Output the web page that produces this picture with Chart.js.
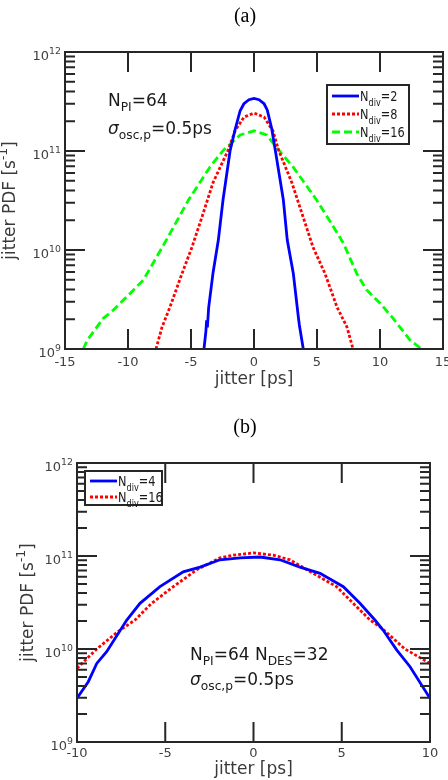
<!DOCTYPE html>
<html lang="en">
<head>
<meta charset="UTF-8">
<title>Jitter PDF</title>
<script src="https://cdn.jsdelivr.net/npm/chart.js"></script>
<style>
  html, body { margin: 0; padding: 0; background: #fff; }
  body { width: 448px; height: 780px; position: relative; overflow: hidden; }
  canvas { position: absolute; left: 0; }
  #chartA { top: 0; }
  #chartB { top: 395px; }
</style>
</head>
<body>
<canvas id="chartA" width="448" height="395"></canvas>
<canvas id="chartB" width="448" height="385"></canvas>
<script>
// panel (a): N_PI=64, sigma=0.5ps
const jitterA2 = [-3.97, -3.82, -3.76, -3.7, -3.6, -3.25, -2.83, -2.46, -1.9, -1.5, -1.1, -0.8, -0.4, 0, 0.4, 0.8, 1.05, 1.4, 1.7, 2.33, 2.64, 3.12, 3.52, 3.6, 3.91];
const pdfA2 = [1e9, 1.5e9, 1.95e9, 1.65e9, 2.6e9, 5.9e9, 1.26e10, 3.2e10, 1e11, 1.65e11, 2.55e11, 3.0e11, 3.3e11, 3.4e11, 3.3e11, 3.0e11, 2.6e11, 1.7e11, 1e11, 3.2e10, 1.26e10, 5.8e9, 2.1e9, 1.75e9, 1e9];

const jitterA8 = [-7.78, -7.3, -6.67, -5.71, -4.92, -4.13, -3.25, -2.05, -1.5, -0.8, 0, 0.8, 1.5, 1.95, 3.0, 3.9, 4.68, 5.63, 6.59, 7.38, 7.86];
const pdfA8 = [1e9, 1.66e9, 2.65e9, 5.8e9, 1.07e10, 2.15e10, 4.8e10, 1.02e11, 1.6e11, 2.2e11, 2.42e11, 2.2e11, 1.6e11, 1.02e11, 4.8e10, 2.15e10, 1.07e10, 5.8e9, 2.65e9, 1.66e9, 1e9];

const jitterA16 = [-13.55, -13.23, -11.96, -11.3, -10.1, -8.78, -7.1, -5.2, -3.49, -2.43, -1.1, 0, 1.0, 2.2, 3.1, 4.97, 6.3, 7.1, 8.15, 8.94, 10.0, 10.93, 12.38, 13.3];
const pdfA16 = [1e9, 1.23e9, 2.04e9, 2.38e9, 3.37e9, 4.98e9, 1.17e10, 3.2e10, 6.9e10, 1.02e11, 1.45e11, 1.6e11, 1.45e11, 9.4e10, 6.9e10, 3.2e10, 1.72e10, 1.17e10, 5.8e9, 3.95e9, 2.9e9, 2.12e9, 1.23e9, 1e9];

// panel (b): N_PI=64, N_DES=32, sigma=0.5ps
const jitterB4 = [-10, -9.36, -8.88, -8.32, -7.18, -6.43, -5.3, -3.98, -3.03, -1.9, -0.76, 0.37, 1.5, 2.63, 3.77, 5.09, 6.03, 6.88, 7.35, 8.11, 8.87, 10];
const pdfB4 = [2.95e9, 4.45e9, 7.0e9, 9.35e9, 2.05e10, 3.1e10, 4.68e10, 6.76e10, 7.6e10, 9.1e10, 9.55e10, 9.75e10, 9.1e10, 7.6e10, 6.5e10, 4.68e10, 3.1e10, 2.05e10, 1.59e10, 9.8e9, 6.45e9, 2.95e9];

const jitterB16 = [-10, -8.88, -7.66, -6.71, -5.77, -4.54, -3.22, -1.9, -1.14, 0, 1.12, 2.07, 3.39, 4.71, 5.65, 6.6, 7.26, 8.58, 10];
const pdfB16 = [6.2e9, 1.0e10, 1.55e10, 2.05e10, 3.1e10, 4.68e10, 7.1e10, 9.55e10, 1.02e11, 1.08e11, 1.02e11, 9.1e10, 6.5e10, 4.68e10, 3.1e10, 2.05e10, 1.68e10, 1.0e10, 7.0e9];

const xTicksA = [-15, -10, -5, 0, 5, 10, 15];
const xTicksB = [-10, -5, 0, 5, 10];
const yExponents = [9, 10, 11, 12];

const FONT = '"DejaVu Sans", sans-serif';
const BLUE = '#0000ff', RED = '#ff0000', GREEN = '#00ff00';

function toPoints(xs, ys) {
    return xs.map((x, i) => ({ x: x, y: ys[i] }));
}

function fontFor(part, size) {
    const small = part[1] === 'sub' || part[1] === 'sup';
    const style = part[1] === 'it' ? 'italic ' : '';
    return style + (small ? size * 0.72 : size) + 'px ' + FONT;
}

// text with sub/superscripts, parts = [[text, 'n'|'sub'|'sup'|'it'], ...]
function drawRich(ctx, x, y, parts, size, align, sx) {
    sx = sx || 1;
    let w = 0;
    parts.forEach(p => { ctx.font = fontFor(p, size); w += ctx.measureText(p[0]).width; });
    ctx.save();
    ctx.translate(x, y);
    ctx.scale(sx, 1);
    let cx = align === 'right' ? -w : (align === 'center' ? -w / 2 : 0);
    ctx.textAlign = 'left';
    ctx.textBaseline = 'alphabetic';
    parts.forEach(p => {
        ctx.font = fontFor(p, size);
        const dy = p[1] === 'sub' ? size * 0.32 : (p[1] === 'sup' ? -size * 0.5 : 0);
        ctx.fillText(p[0], cx, dy);
        cx += ctx.measureText(p[0]).width;
    });
    ctx.restore();
}

const framePlugin = {
    id: 'frame',
    afterDatasetsDraw(chart, args, o) {
        const ctx = chart.ctx, a = chart.chartArea;
        const xs = chart.scales.x, ys = chart.scales.y;
        ctx.save();
        ctx.strokeStyle = '#262626';
        ctx.lineWidth = 2;
        ctx.setLineDash([]);

        // inward ticks on all four sides
        ctx.beginPath();
        o.xTicks.forEach(v => {
            const px = xs.getPixelForValue(v);
            ctx.moveTo(px, a.bottom); ctx.lineTo(px, a.bottom - 20);
            ctx.moveTo(px, a.top); ctx.lineTo(px, a.top + 20);
        });
        yExponents.forEach(e => {
            for (let m = 1; m <= 9; m++) {
                if (e === 12 && m > 1) break;
                const py = ys.getPixelForValue(m * Math.pow(10, e));
                const len = m === 1 ? 20 : 10;
                ctx.moveTo(a.left, py); ctx.lineTo(a.left + len, py);
                ctx.moveTo(a.right, py); ctx.lineTo(a.right - len, py);
            }
        });
        ctx.stroke();
        ctx.strokeRect(a.left, a.top, a.right - a.left, a.bottom - a.top);

        // tick labels
        ctx.fillStyle = '#404040';
        o.xTicks.forEach(v => {
            drawRich(ctx, xs.getPixelForValue(v), a.bottom + o.xLabelGap, [[String(v), 'n']], 13, 'center');
        });
        yExponents.forEach(e => {
            const py = ys.getPixelForValue(Math.pow(10, e));
            drawRich(ctx, a.left - 4, py + 8, [['10', 'n'], [String(e), 'sup']], 13, 'right');
        });

        // axis titles
        ctx.fillStyle = '#3a3a3a';
        drawRich(ctx, (a.left + a.right) / 2, o.xTitleY, [['jitter [ps]', 'n']], 17, 'center');
        ctx.save();
        ctx.translate(o.yTitleX, (a.top + a.bottom) / 2);
        ctx.rotate(-Math.PI / 2);
        drawRich(ctx, 0, 0, [['jitter PDF [s', 'n'], ['-1', 'sup'], [']', 'n']], 17, 'center');
        ctx.restore();

        // panel title
        ctx.fillStyle = '#000';
        ctx.font = '20px "Liberation Serif", serif';
        ctx.textAlign = 'center';
        ctx.fillText(o.title, 245, o.titleY);

        // annotations
        ctx.fillStyle = '#1a1a1a';
        o.notes.forEach(n => drawRich(ctx, n.x, n.y, n.parts, 17, 'left'));

        // legend box
        const L = o.legend;
        ctx.fillStyle = '#fff';
        ctx.fillRect(L.x, L.y, L.w, L.h);
        ctx.strokeStyle = '#262626';
        ctx.lineWidth = 2;
        ctx.strokeRect(L.x, L.y, L.w, L.h);
        chart.data.datasets.forEach((ds, i) => {
            const ry = L.rowY[i];
            ctx.strokeStyle = ds.borderColor;
            ctx.lineWidth = ds.borderWidth;
            ctx.setLineDash(ds.borderDash || []);
            ctx.beginPath();
            ctx.moveTo(L.x + 5, ry); ctx.lineTo(L.x + 32, ry);
            ctx.stroke();
            ctx.setLineDash([]);
            ctx.fillStyle = '#1a1a1a';
            drawRich(ctx, L.x + 33, ry + 5, [['N', 'n'], ['div', 'sub'], ['=' + ds.div, 'n']], 14.5, 'left', 0.78);
        });
        ctx.restore();
    }
};

function makeChart(id, datasets, xMin, xMax, pad, frameOpts) {
    return new Chart(document.getElementById(id).getContext('2d'), {
        type: 'line',
        data: { datasets: datasets },
        options: {
            responsive: false,
            animation: false,
            events: [],
            layout: { padding: pad },
            elements: { point: { radius: 0 }, line: { tension: 0, borderCapStyle: 'butt' } },
            scales: {
                x: { type: 'linear', min: xMin, max: xMax, display: false },
                y: { type: 'logarithmic', min: 1e9, max: 1e12, display: false }
            },
            plugins: {
                legend: { display: false },
                tooltip: { enabled: false },
                frame: frameOpts
            }
        },
        plugins: [framePlugin]
    });
}

makeChart('chartA', [
    { div: 2, data: toPoints(jitterA2, pdfA2), borderColor: BLUE, borderWidth: 2.8 },
    { div: 8, data: toPoints(jitterA8, pdfA8), borderColor: RED, borderWidth: 2.8, borderDash: [3, 2] },
    { div: 16, data: toPoints(jitterA16, pdfA16), borderColor: GREEN, borderWidth: 2.8, borderDash: [8, 4] }
], -15, 15, { left: 65, right: 5, top: 52, bottom: 46 }, {
    xTicks: xTicksA,
    xLabelGap: 17,
    xTitleY: 384,
    yTitleX: 15,
    title: '(a)',
    titleY: 22,
    notes: [
        { x: 108, y: 106, parts: [['N', 'n'], ['PI', 'sub'], ['=64', 'n']] },
        { x: 108, y: 134, parts: [['σ', 'it'], ['osc,p', 'sub'], ['=0.5ps', 'n']] }
    ],
    legend: { x: 327, y: 85, w: 82, h: 59, rowY: [96, 114, 132] }
});

makeChart('chartB', [
    { div: 4, data: toPoints(jitterB4, pdfB4), borderColor: BLUE, borderWidth: 2.8 },
    { div: 16, data: toPoints(jitterB16, pdfB16), borderColor: RED, borderWidth: 2.8, borderDash: [3, 2] }
], -10, 10, { left: 77, right: 18, top: 68, bottom: 38 }, {
    xTicks: xTicksB,
    xLabelGap: 15,
    xTitleY: 379,
    yTitleX: 33,
    title: '(b)',
    titleY: 38,
    notes: [
        { x: 190, y: 265, parts: [['N', 'n'], ['PI', 'sub'], ['=64 N', 'n'], ['DES', 'sub'], ['=32', 'n']] },
        { x: 190, y: 290, parts: [['σ', 'it'], ['osc,p', 'sub'], ['=0.5ps', 'n']] }
    ],
    legend: { x: 85, y: 76, w: 77, h: 34, rowY: [86, 102] }
});
</script>
</body>
</html>
